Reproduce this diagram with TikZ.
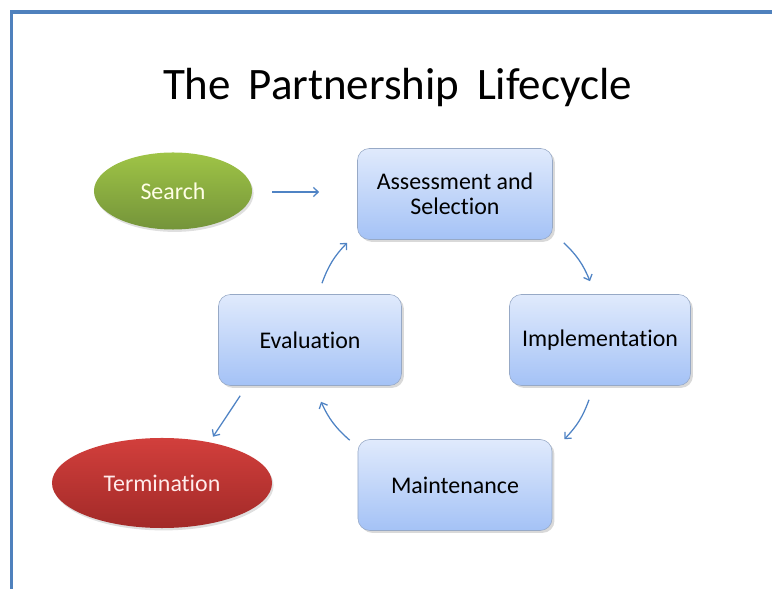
\documentclass[tikz,border=0pt]{standalone}
\usepackage{fontspec}
\setmainfont{Carlito}[Ligatures=NoCommon]
\usetikzlibrary{shapes.geometric,shadows,arrows.meta}
\definecolor{frameblue}{HTML}{4F81BD}
\definecolor{boxtop}{HTML}{E0EAFC}
\definecolor{boxbot}{HTML}{A4C2F6}
\definecolor{boxedge}{HTML}{97A9C6}
\definecolor{arrowblue}{HTML}{4F83C4}
\definecolor{searchtop}{HTML}{9FC446}
\definecolor{searchbot}{HTML}{74943A}
\definecolor{termtop}{HTML}{D23F3C}
\definecolor{termbot}{HTML}{A22A28}
\begin{document}
\begin{tikzpicture}[x=0.025cm,y=-0.025cm,
phasebox/.style={draw=boxedge,rounded corners=0.3cm,top color=boxtop,bottom color=boxbot,minimum height=2.275cm,inner sep=0pt,align=center,font=\fontsize{17}{18}\selectfont,drop shadow={opacity=0.3,shadow xshift=0.6mm,shadow yshift=-0.6mm}},
endpoint/.style={ellipse,inner sep=0pt,font=\fontsize{17}{18}\selectfont,drop shadow={opacity=0.25,shadow xshift=0.4mm,shadow yshift=-0.6mm}},
cyclearrow/.style={arrowblue,-{Straight Barb[length=3.5pt,width=6.5pt]},line width=0.9pt}]
\useasboundingbox (0,0) rectangle (772,589);
\draw[frameblue,line width=2.6pt](11.5,600)--(11.5,12)--(790,12);
\node[anchor=base,font=\fontsize{32}{38}\selectfont] (title) at (397.5,100) {The\, Partnership\, Lifecycle};
% the four phases
\foreach \nm/\px/\py/\bw/\lb in {assess/455/194/4.875/{Assessment and\\Selection},impl/600/340/4.525/Implementation,maint/455/485/4.85/Maintenance,eval/310/340/4.575/Evaluation}{\node[phasebox,minimum width=\bw cm](\nm) at (\px,\py) {\lb};}
\node[endpoint,top color=searchtop,bottom color=searchbot,text=white!90!yellow,minimum width=3.95cm,minimum height=1.925cm] (search) at (173,191) {Search};
\node[endpoint,top color=termtop,bottom color=termbot,text=white!92!red,minimum width=5.5cm,minimum height=2.25cm] (term) at (162,483) {Termination};
% arrows
\draw[cyclearrow] ([shift={(20,1)}]search.east)--([shift={(-38,1)}]search.east -| assess.west);
\draw[cyclearrow] ([shift={(11,3)}]assess.south east) to[bend left=12] ([shift={(-10,-13)}]impl.north);
\draw[cyclearrow] ([shift={(-11,14)}]impl.south) to[bend left=12] ([shift={(12,0)}]maint.north east);
\draw[cyclearrow] ([shift={(-8,1)}]maint.north west) to[bend left=12] ([shift={(11,16)}]eval.south);
\draw[cyclearrow] ([shift={(12,-11)}]eval.north) to[bend left=12] ([shift={(-10,3)}]assess.south west);
\draw[cyclearrow] ([shift={(22,10)}]eval.south west)--([shift={(51,-1)}]term.north);
\end{tikzpicture}
\end{document}
